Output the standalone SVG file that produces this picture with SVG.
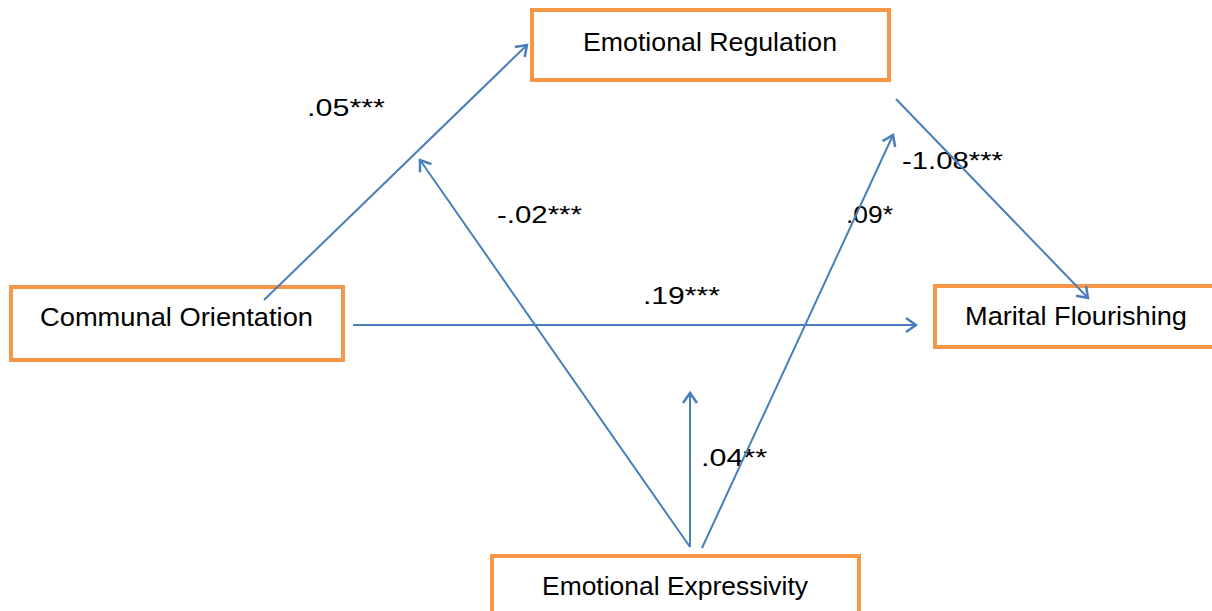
<svg xmlns="http://www.w3.org/2000/svg" width="1212" height="611" viewBox="0 0 1212 611">
<style>
.box{fill:#fff;stroke:#F79646;stroke-width:4}
.lbl{font-family:"Liberation Sans",Arial,sans-serif;font-size:25px;fill:#000}
.num{font-family:"Liberation Sans",Arial,sans-serif;font-size:24px;fill:#000}
.conn{stroke:#4A7EBB;stroke-width:2;fill:none;marker-end:url(#arr)}
</style>
<defs>
<marker id="arr" markerUnits="userSpaceOnUse" markerWidth="30" markerHeight="30" refX="0" refY="0" viewBox="-15 -15 30 30" orient="auto">
<path d="M-10,-7 L0,0 L-10,7" fill="none" stroke="#4A7EBB" stroke-width="2.5"/>
</marker>
</defs>
<rect width="1212" height="611" fill="#fff"/>
<g id="node-emotional-regulation">
<rect class="box" x="532" y="10" width="357" height="70"/>
<text class="lbl" x="583" y="51" textLength="254" lengthAdjust="spacingAndGlyphs">Emotional Regulation</text>
</g>
<g id="node-communal-orientation">
<rect class="box" x="11" y="287" width="332" height="73"/>
<text class="lbl" x="40" y="326" textLength="273" lengthAdjust="spacingAndGlyphs">Communal Orientation</text>
</g>
<g id="node-marital-flourishing">
<rect class="box" x="935" y="286" width="290" height="61"/>
<text class="lbl" x="965" y="325" textLength="222" lengthAdjust="spacingAndGlyphs">Marital Flourishing</text>
</g>
<g id="node-emotional-expressivity">
<rect class="box" x="492" y="556" width="367" height="70"/>
<text class="lbl" x="542" y="595" textLength="266" lengthAdjust="spacingAndGlyphs">Emotional Expressivity</text>
</g>
<g id="labels">
<text class="num" x="307" y="116" textLength="78" lengthAdjust="spacingAndGlyphs">.05***</text>
<text class="num" x="497" y="223" textLength="85" lengthAdjust="spacingAndGlyphs">-.02***</text>
<text class="num" x="643" y="304" textLength="77" lengthAdjust="spacingAndGlyphs">.19***</text>
<text class="num" x="846" y="223" textLength="47" lengthAdjust="spacingAndGlyphs">.09*</text>
<text class="num" x="902" y="169" textLength="101" lengthAdjust="spacingAndGlyphs">-1.08***</text>
<text class="num" x="701" y="466" textLength="66" lengthAdjust="spacingAndGlyphs">.04**</text>
</g>
<g id="connectors">
<line class="conn" x1="264" y1="300" x2="527" y2="45"/>
<line class="conn" x1="690" y1="547" x2="420" y2="160"/>
<line class="conn" x1="702" y1="548" x2="893" y2="135"/>
<line class="conn" x1="690" y1="547" x2="690" y2="393"/>
<line class="conn" x1="896" y1="99" x2="1088" y2="298"/>
<line class="conn" x1="353" y1="325" x2="916" y2="325"/>
</g>
</svg>
